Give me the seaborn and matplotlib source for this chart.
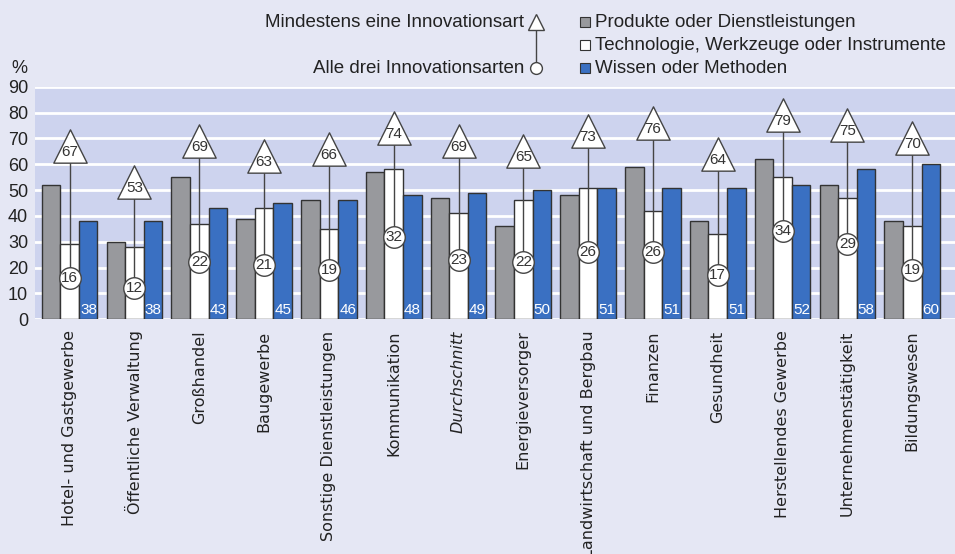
import pandas as pd
import matplotlib
matplotlib.use("Agg")
import matplotlib.pyplot as plt
from matplotlib.lines import Line2D
import seaborn as sns

categories = ["Hotel- und Gastgewerbe", "Öffentliche Verwaltung", "Großhandel", "Baugewerbe",
              "Sonstige Dienstleistungen", "Kommunikation", "Durchschnitt", "Energieversorger",
              "Landwirtschaft und Bergbau", "Finanzen", "Gesundheit", "Herstellendes Gewerbe",
              "Unternehmenstätigkeit", "Bildungswesen"]
produkte = [52, 30, 55, 39, 46, 57, 47, 36, 48, 59, 38, 62, 52, 38]
technologie = [29, 28, 37, 43, 35, 58, 41, 46, 51, 42, 33, 55, 47, 36]
wissen = [38, 38, 43, 45, 46, 48, 49, 50, 51, 51, 51, 52, 58, 60]
mindestens_eine = [67, 53, 69, 63, 66, 74, 69, 65, 73, 76, 64, 79, 75, 70]
alle_drei = [16, 12, 22, 21, 19, 32, 23, 22, 26, 26, 17, 34, 29, 19]

series_names = ["Produkte oder Dienstleistungen", "Technologie, Werkzeuge oder Instrumente",
                "Wissen oder Methoden"]
colors = ["#98999d", "#ffffff", "#3a70c2"]

rows = []
for name, vals in zip(series_names, [produkte, technologie, wissen]):
    for cat, v in zip(categories, vals):
        rows.append({"Branche": cat, "Serie": name, "Wert": v})
df = pd.DataFrame(rows)

fig_bg = "#e5e7f4"
ax_bg = "#cdd3ee"
plt.rcParams["font.family"] = ["Liberation Sans", "DejaVu Sans"]

fig = plt.figure(figsize=(9.55, 5.54), dpi=100, facecolor=fig_bg)
ax = fig.add_axes([0.0366, 0.4236, 0.9634, 0.4199])
ax.set_facecolor(ax_bg)

sns.barplot(data=df, x="Branche", y="Wert", hue="Serie", order=categories,
            hue_order=series_names, palette=colors, saturation=1, width=0.86, gap=0,
            edgecolor="#333333", linewidth=1, legend=False, ax=ax, zorder=2)

# connecting lines, triangles and circles on the white bars
for i, (hi, lo) in enumerate(zip(mindestens_eine, alle_drei)):
    ax.plot([i, i], [lo, hi], color="#444444", lw=1, zorder=3)
ax.scatter(range(len(categories)), mindestens_eine, marker="^", s=24**2,
           facecolor="white", edgecolor="#444444", linewidths=1, zorder=4)
ax.scatter(range(len(categories)), alle_drei, marker="o", s=15.5**2,
           facecolor="white", edgecolor="#444444", linewidths=1, zorder=4)
for i, (hi, lo) in enumerate(zip(mindestens_eine, alle_drei)):
    ax.text(i, hi - 2.3, str(hi), ha="center", va="center", fontsize=11,
            color="#333333", zorder=5)
    ax.text(i, lo, str(lo), ha="center", va="center", fontsize=11,
            color="#333333", zorder=5)

# values inside the blue bars
offset = 0.86 / 3
for i, v in enumerate(wissen):
    ax.text(i + offset + 0.135, 3.7, str(v), ha="right", va="center", fontsize=11,
            color="white", zorder=5)

ax.set_xlim(-0.535, 13.66)
ax.set_ylim(0, 90)
ax.set_yticks(range(0, 100, 10))
ax.tick_params(axis="y", length=0, labelsize=13, pad=5, colors="#222222")
ax.tick_params(axis="x", length=0, pad=8)
ax.set_xticks(range(len(categories)))
ax.set_xticklabels(categories, rotation=90, fontsize=11.5, color="#222222",
                   family=["DejaVu Sans"], va="top")
ax.get_xticklabels()[6].set_style("italic")
ax.set_xlabel("")
ax.set_ylabel("")
for s in ax.spines.values():
    s.set_visible(False)
ax.grid(axis="y", color="white", lw=2)
ax.grid(axis="x", visible=False)
ax.set_axisbelow(True)

fig.text(0.012, 0.877, "%", fontsize=13, color="#222222", va="center")

# legend
fig.text(0.549, 0.960, "Mindestens eine Innovationsart", ha="right", va="center",
         fontsize=13.5, color="#222222")
fig.text(0.549, 0.877, "Alle drei Innovationsarten", ha="right", va="center",
         fontsize=13.5, color="#222222")
lx = 0.5615
fig.add_artist(Line2D([lx, lx], [0.877, 0.960], transform=fig.transFigure,
                      color="#444444", lw=1))
fig.add_artist(Line2D([lx], [0.960], transform=fig.transFigure, marker="^",
                      markersize=11, markerfacecolor="white", markeredgecolor="#444444",
                      linestyle="none"))
fig.add_artist(Line2D([lx], [0.877], transform=fig.transFigure, marker="o",
                      markersize=8.5, markerfacecolor="white", markeredgecolor="#444444",
                      linestyle="none"))
for k, (name, col) in enumerate(zip(series_names, colors)):
    y = 0.960 - k * 0.0415
    fig.add_artist(Line2D([0.6125], [y], transform=fig.transFigure, marker="s",
                          markersize=7.5, markerfacecolor=col, markeredgecolor="#333333",
                          markeredgewidth=0.8, linestyle="none"))
    fig.text(0.6235, y, name, ha="left", va="center", fontsize=13.5, color="#222222")

fig.savefig("out.png", dpi=100, facecolor=fig_bg)
